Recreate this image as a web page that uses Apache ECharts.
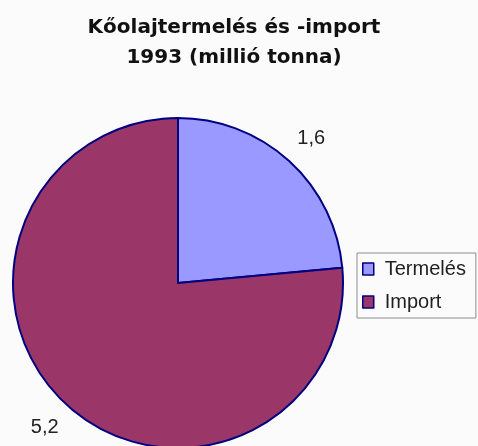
<!DOCTYPE html>
<html>
<head>
<meta charset="utf-8">
<script src="https://cdn.jsdelivr.net/npm/echarts@6/dist/echarts.min.js"></script>
<style>
    html, body { margin: 0; padding: 0; background: #fbfbfb; }
    #chart { width: 478px; height: 446px; }
</style>
</head>
<body>
<div id="chart"></div>
<script>
    const categories = ['Termelés', 'Import'];
    const values = [1.6, 5.2];
    const colors = ['#9999ff', '#9b3768'];

    const myChart = echarts.init(document.getElementById('chart'));

    // címsor két sorban
    myChart.setOption({
        'backgroundColor': '#fbfbfb',
        'title': {
            'text': 'Kőolajtermelés és -import\n1993 (millió tonna)',
            'left': 229,
            'textAlign': 'center',
            'top': 8,
            'textStyle': {
                'fontFamily': 'DejaVu Sans',
                'fontWeight': 'bold',
                'fontSize': 20,
                'lineHeight': 30,
                'color': '#111'
            }
        },
        'legend': {
            'orient': 'vertical',
            'left': 357,
            'top': 253,
            'padding': [6, 10, 6, 5],
            'itemWidth': 11,
            'itemHeight': 12,
            'itemGap': 13,
            'borderColor': '#8c8c8c',
            'borderWidth': 1,
            'icon': 'rect',
            'textStyle': {
                'fontFamily': 'Liberation Sans',
                'fontSize': 20,
                'color': '#222',
                'padding': [0, 0, 0, 6]
            },
            'itemStyle': {
                'borderColor': '#000080',
                'borderWidth': 1.5
            },
            'data': categories
        },
        'series': [{
            'type': 'pie',
            'center': [178, 283],
            'radius': 165,
            'startAngle': 90,
            'clockwise': true,
            'animation': false,
            'itemStyle': {
                'borderColor': '#000080',
                'borderWidth': 2
            },
            'label': {
                'show': true,
                'position': 'outside',
                'distanceToLabelLine': -12,
                'fontFamily': 'Liberation Sans',
                'fontSize': 20,
                'color': '#222',
                'formatter': (p) => String(p.value).replace('.', ',')
            },
            'labelLine': {
                'show': false,
                'length': 30,
                'length2': 0
            },
            'emphasis': { 'disabled': true },
            'data': categories.map((name, i) => ({
                'name': name,
                'value': values[i],
                'itemStyle': { 'color': colors[i] }
            }))
        }]
    });
</script>
</body>
</html>
